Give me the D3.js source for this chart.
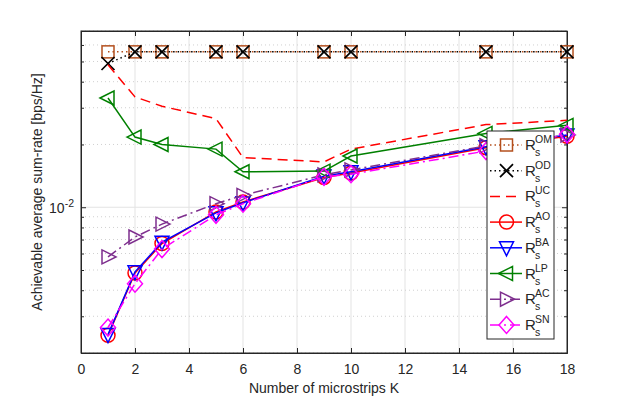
<!DOCTYPE html>
<html>
<head>
<meta charset="utf-8">
<script src="https://cdn.jsdelivr.net/npm/d3@7"></script>
<style>
  body { margin: 0; background: #fff; }
  svg text { font-family: "Liberation Sans", Arial, sans-serif; fill: #262626; }
</style>
</head>
<body>
<svg id="chart"></svg>
<script>
/*
    DATA
*/
var kValues = [1, 2, 3, 5, 6, 9, 10, 15, 18];

var rateOM = [0.0556, 0.0556, 0.0556, 0.0556, 0.0556, 0.0556, 0.0556, 0.0556, 0.0556];
var rateOD = [0.0489, 0.0556, 0.0556, 0.0556, 0.0556, 0.0556, 0.0556, 0.0556, 0.0556];
var rateUC = [0.0482, 0.0338, 0.0305, 0.0266, 0.0173, 0.0165, 0.0190, 0.0249, 0.0261];
var rateAO = [0.00243, 0.00484, 0.0067, 0.0095, 0.0106, 0.0139, 0.0146, 0.0193, 0.0219];
var rateBA = [0.00245, 0.0049, 0.0068, 0.0094, 0.0105, 0.0141, 0.0148, 0.0195, 0.0222];
var rateLP = [0.0334, 0.0217, 0.0200, 0.0190, 0.0148, 0.0149, 0.0176, 0.0226, 0.0247];
var rateAC = [0.00578, 0.0072, 0.0083, 0.0104, 0.0114, 0.0143, 0.0151, 0.0197, 0.0222];
var rateSN = [0.00265, 0.0043, 0.0063, 0.0092, 0.0104, 0.0140, 0.0144, 0.0186, 0.0224];

var xTicks = [0, 2, 4, 6, 8, 10, 12, 14, 16, 18];
var yDomain = [0.002, 0.07];

var series = [
  {name: "OM", values: rateOM, color: "#b4501e", dash: "1.5,3", marker: "square"},
  {name: "OD", values: rateOD, color: "#000000", dash: "1.5,3", marker: "cross"},
  {name: "UC", values: rateUC, color: "#ff0000", dash: "10,6", marker: "none"},
  {name: "AO", values: rateAO, color: "#ff0000", dash: null, marker: "circle"},
  {name: "BA", values: rateBA, color: "#0000ff", dash: null, marker: "down"},
  {name: "LP", values: rateLP, color: "#008000", dash: null, marker: "left"},
  {name: "AC", values: rateAC, color: "#7e2f8e", dash: "10,4,2,4", marker: "right"},
  {name: "SN", values: rateSN, color: "#ff00ff", dash: "10,4,2,4", marker: "diamond"}
];

/*
    LAYOUT
*/
var width = 628, height = 399;
var margin = {top: 31, right: 61, bottom: 46, left: 81};
var w = width - margin.left - margin.right;
var h = height - margin.top - margin.bottom;

var svg = d3.select("#chart").attr("width", width).attr("height", height);
var chart = svg.append("g").attr("transform", "translate(" + margin.left + "," + margin.top + ")");

var x = d3.scaleLinear().domain([0, 18]).range([0, w]);
var y = d3.scaleLog().domain(yDomain).range([h, 0]);

var minorTicks = [0.002, 0.003, 0.004, 0.005, 0.006, 0.007, 0.008, 0.009,
                  0.02, 0.03, 0.04, 0.05, 0.06, 0.07];

// grid
chart.append("g").selectAll("line").data(xTicks.slice(1, -1)).enter().append("line")
  .attr("x1", x).attr("x2", x).attr("y1", 0).attr("y2", h)
  .style("stroke", "#e3e3e3").style("stroke-width", 1);

chart.append("g").selectAll("line").data(minorTicks).enter().append("line")
  .attr("x1", 0).attr("x2", w).attr("y1", y).attr("y2", y)
  .style("stroke", "#d0d0d0").style("stroke-width", 1).style("stroke-dasharray", "1,3");

chart.append("line").attr("x1", 0).attr("x2", w).attr("y1", y(0.01)).attr("y2", y(0.01))
  .style("stroke", "#e3e3e3").style("stroke-width", 1);

// axes
var xAxis = chart.append("g").attr("transform", "translate(0," + h + ")")
  .call(d3.axisBottom(x).tickValues(xTicks).tickSizeInner(-5).tickSizeOuter(0).tickPadding(11));
xAxis.selectAll("text").style("font-size", "14px");

chart.append("g")
  .call(d3.axisTop(x).tickValues(xTicks).tickSizeInner(-5).tickSizeOuter(0).tickFormat(""));

var yAxis = chart.append("g")
  .call(d3.axisLeft(y).tickValues([0.01]).tickSizeInner(-5).tickSizeOuter(0).tickPadding(8)
    .tickFormat(function() { return ""; }));
yAxis.selectAll(".tick").append("text")
  .attr("x", -7).attr("dy", "0.35em").attr("text-anchor", "end")
  .style("font-size", "14px")
  .html('10<tspan dy="-6" font-size="10.5">-2</tspan>');

chart.append("g").call(d3.axisLeft(y).tickValues(minorTicks).tickSizeInner(-3).tickSizeOuter(0).tickFormat(""));
chart.append("g").attr("transform", "translate(" + w + ",0)")
  .call(d3.axisRight(y).tickValues(minorTicks).tickSizeInner(-3).tickSizeOuter(0).tickFormat(""));
chart.append("g").attr("transform", "translate(" + w + ",0)")
  .call(d3.axisRight(y).tickValues([0.01]).tickSizeInner(-5).tickSizeOuter(0).tickFormat(""));

chart.selectAll(".domain, .tick line").style("stroke", "#262626");
chart.append("rect").attr("width", w).attr("height", h)
  .style("fill", "none").style("stroke", "#262626").style("stroke-width", 1);

// labels
svg.append("text").attr("x", margin.left + w / 2).attr("y", 393)
  .attr("text-anchor", "middle").style("font-size", "14px")
  .text("Number of microstrips K");
svg.append("text").attr("transform", "translate(42," + (margin.top + h / 2) + ") rotate(-90)")
  .attr("text-anchor", "middle").style("font-size", "14px")
  .text("Achievable average sum-rate [bps/Hz]");

/*
    MARKERS
*/
function drawMarker(g, type, color) {
  var s;
  if (type == "square") {
    g.append("rect").attr("x", -6).attr("y", -6).attr("width", 12).attr("height", 12)
      .style("fill", "none").style("stroke", color).style("stroke-width", 1.5);
  } else if (type == "cross") {
    s = 6.5;
    g.append("path").attr("d", "M" + -s + "," + -s + "L" + s + "," + s + "M" + -s + "," + s + "L" + s + "," + -s)
      .style("fill", "none").style("stroke", color).style("stroke-width", 1.7);
  } else if (type == "circle") {
    g.append("circle").attr("r", 7)
      .style("fill", "none").style("stroke", color).style("stroke-width", 1.5);
  } else if (type == "down") {
    g.append("path").attr("d", "M-7,-6L7,-6L0,8Z")
      .style("fill", "none").style("stroke", color).style("stroke-width", 1.5);
  } else if (type == "left") {
    g.append("path").attr("d", "M-8,0L6,-7L6,7Z")
      .style("fill", "none").style("stroke", color).style("stroke-width", 1.5);
  } else if (type == "right") {
    g.append("path").attr("d", "M8,0L-6,-7L-6,7Z")
      .style("fill", "none").style("stroke", color).style("stroke-width", 1.5);
  } else if (type == "diamond") {
    g.append("path").attr("d", "M0,-8.5L7.5,0L0,8.5L-7.5,0Z")
      .style("fill", "none").style("stroke", color).style("stroke-width", 1.5);
  }
}

var line = d3.line()
  .x(function(d) { return x(d[0]); })
  .y(function(d) { return y(d[1]); });

series.forEach(function(s) {
  var pts = kValues.map(function(k, i) { return [k, s.values[i]]; });
  chart.append("path").datum(pts).attr("d", line)
    .style("fill", "none").style("stroke", s.color).style("stroke-width", 1.5)
    .style("stroke-dasharray", s.dash);
  pts.forEach(function(p) {
    var g = chart.append("g").attr("transform", "translate(" + x(p[0]) + "," + y(p[1]) + ")");
    drawMarker(g, s.marker, s.color);
  });
});

/*
    LEGEND
*/
var legend = svg.append("g").attr("transform", "translate(487,131)");
legend.append("rect").attr("width", 67).attr("height", 208)
  .style("fill", "#fff").style("stroke", "#262626").style("stroke-width", 1);

series.forEach(function(s, i) {
  var cy = 14 + i * 25.7;
  var g = legend.append("g").attr("transform", "translate(0," + cy + ")");
  g.append("line").attr("x1", 3).attr("x2", 35).attr("y1", 0).attr("y2", 0)
    .style("stroke", s.color).style("stroke-width", 1.5).style("stroke-dasharray", s.dash);
  var m = g.append("g").attr("transform", "translate(19.5,0)");
  drawMarker(m, s.marker, s.color);
  g.append("text").attr("x", 38).attr("y", 5).style("font-size", "15px").text("R");
  g.append("text").attr("x", 48).attr("y", -2).style("font-size", "10.5px").text(s.name);
  g.append("text").attr("x", 48).attr("y", 11).style("font-size", "10.5px").text("s");
});
</script>
</body>
</html>
